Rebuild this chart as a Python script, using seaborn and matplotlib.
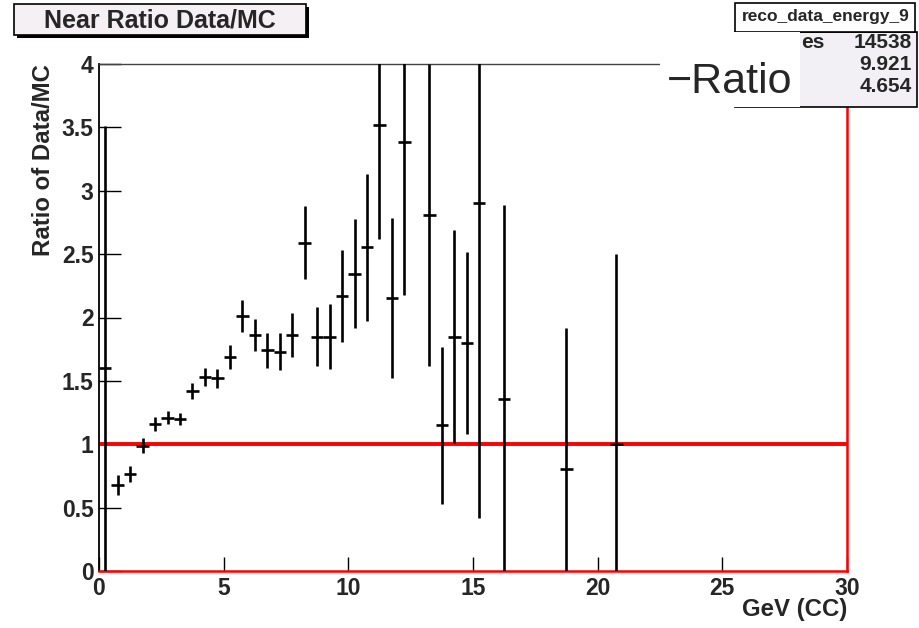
import seaborn as sns
import matplotlib.pyplot as plt
from matplotlib.patches import Rectangle
from matplotlib.ticker import MultipleLocator

# bin centres (GeV), ratio values and errors
energy = [0.25, 0.75, 1.25, 1.75, 2.25, 2.75, 3.25, 3.75, 4.25, 4.75,
          5.25, 5.75, 6.25, 6.75, 7.25, 7.75, 8.25, 8.75, 9.25, 9.75,
          10.25, 10.75, 11.25, 11.75, 12.25, 13.25, 13.75, 14.25, 14.75,
          15.25, 16.25, 18.75, 20.75]
ratio = [1.60, 0.68, 0.765, 0.99, 1.16, 1.21, 1.20, 1.42, 1.53, 1.52,
         1.69, 2.01, 1.86, 1.74, 1.73, 1.86, 2.59, 1.85, 1.85, 2.17,
         2.345, 2.555, 3.52, 2.155, 3.385, 2.81, 1.15, 1.85, 1.80,
         2.90, 1.36, 0.805, 1.00]
ratio_err = [1.91, 0.08, 0.06, 0.06, 0.055, 0.05, 0.05, 0.065, 0.07, 0.075,
             0.095, 0.125, 0.125, 0.14, 0.145, 0.175, 0.29, 0.23, 0.255, 0.36,
             0.43, 0.58, 0.90, 0.63, 1.21, 1.19, 0.62, 0.84, 0.72,
             2.48, 1.53, 1.115, 1.50]
half_bin = 0.25

# only the tail of "Entries" peeks out from under the legend box
stats_label = "es"
stats_values = ["14538", "9.921", "4.654"]

sns.set_theme(style="white")
plt.rcParams["font.family"] = ["Liberation Sans", "DejaVu Sans"]

W, H = 920, 628
fig = plt.figure(figsize=(9.2, 6.28), dpi=100)
ax = fig.add_axes([99 / W, 1 - 571 / H, 748 / W, 507 / H])

ax.axhline(1, color="red", lw=2.8, zorder=2)
ax.errorbar(energy, ratio, yerr=ratio_err, xerr=half_bin, fmt="none",
            ecolor="black", elinewidth=1.9, capsize=0, zorder=3)

ax.set_xlim(0, 30)
ax.set_ylim(0, 4)
ax.xaxis.set_major_locator(MultipleLocator(5))
ax.xaxis.set_minor_locator(MultipleLocator(1))
ax.yaxis.set_minor_locator(MultipleLocator(0.1))
ax.set_yticks([0, 0.5, 1, 1.5, 2, 2.5, 3, 3.5, 4])
ax.set_yticklabels(["0", "0.5", "1", "1.5", "2", "2.5", "3", "3.5", "4"])

ax.tick_params(axis="x", which="major", direction="in", length=10, width=1,
               pad=4, labelsize=16.5, color="black")
ax.tick_params(axis="x", which="minor", direction="in", length=5, width=1,
               color="black")
ax.tick_params(axis="y", which="major", direction="in", length=16, width=1,
               pad=4, labelsize=16.5, color="black")
ax.tick_params(axis="y", which="minor", direction="in", length=8, width=1,
               color="black")
ax.tick_params(bottom=True, left=True, top=False, right=False)
for lab in ax.get_xticklabels() + ax.get_yticklabels():
    lab.set_fontweight("bold")

ax.spines["left"].set_color("black")
ax.spines["left"].set_linewidth(1.3)
ax.spines["top"].set_color("#444444")
ax.spines["top"].set_linewidth(1.0)
ax.spines["bottom"].set_color("red")
ax.spines["bottom"].set_linewidth(1.8)
ax.spines["right"].set_color("red")
ax.spines["right"].set_linewidth(1.8)

ax.set_xlabel("GeV (CC)", loc="right", fontsize=17.3, fontweight="bold")
ax.xaxis.set_label_coords(1.0, -0.054)
ax.set_ylabel("Ratio of Data/MC", loc="top", fontsize=17.3, fontweight="bold")
ax.yaxis.set_label_coords(-0.059, 1.0)


def px_rect(x0, y0, x1, y1, **kw):
    # rectangle given in pixel coordinates from the top left
    return Rectangle((x0 / W, 1 - y1 / H), (x1 - x0) / W, (y1 - y0) / H,
                     transform=fig.transFigure, **kw)


# title box with shadow
fig.patches.append(px_rect(17, 7, 309, 38, facecolor="black", lw=0, zorder=5))
fig.patches.append(px_rect(14, 4, 306, 35, facecolor="#f4f0f4",
                           edgecolor="black", lw=1.2, zorder=6))
fig.text(160 / W, 1 - 20 / H, "Near Ratio Data/MC", fontsize=18,
         fontweight="bold", ha="center", va="center", zorder=7)

# stats box
fig.patches.append(px_rect(735, 32, 917, 107, facecolor="#f3f0f5",
                           edgecolor="black", lw=1.2, zorder=5))
fig.patches.append(px_rect(735, 3, 915, 32, facecolor="white",
                           edgecolor="black", lw=1.2, zorder=6))
fig.text(826 / W, 1 - 17 / H, "reco_data_energy_9", fontsize=12.5,
         fontweight="bold", ha="center", va="center", zorder=7)
fig.text(801 / W, 1 - 43 / H, stats_label, fontsize=15, fontweight="bold",
         ha="left", va="center", zorder=7)
for i, val in enumerate(stats_values):
    fig.text(912 / W, 1 - (43 + i * 21.5) / H, val, fontsize=15,
             fontweight="bold", ha="right", va="center", zorder=7)

# legend box drawn on top of the stats box
fig.patches.append(px_rect(660, 32, 800, 107, facecolor="white", lw=0,
                           zorder=8))
fig.text(667 / W, 1 - 82 / H, "\u2212Ratio", fontsize=31, ha="left",
         va="center", zorder=9)

fig.savefig("out.png", dpi=100)
